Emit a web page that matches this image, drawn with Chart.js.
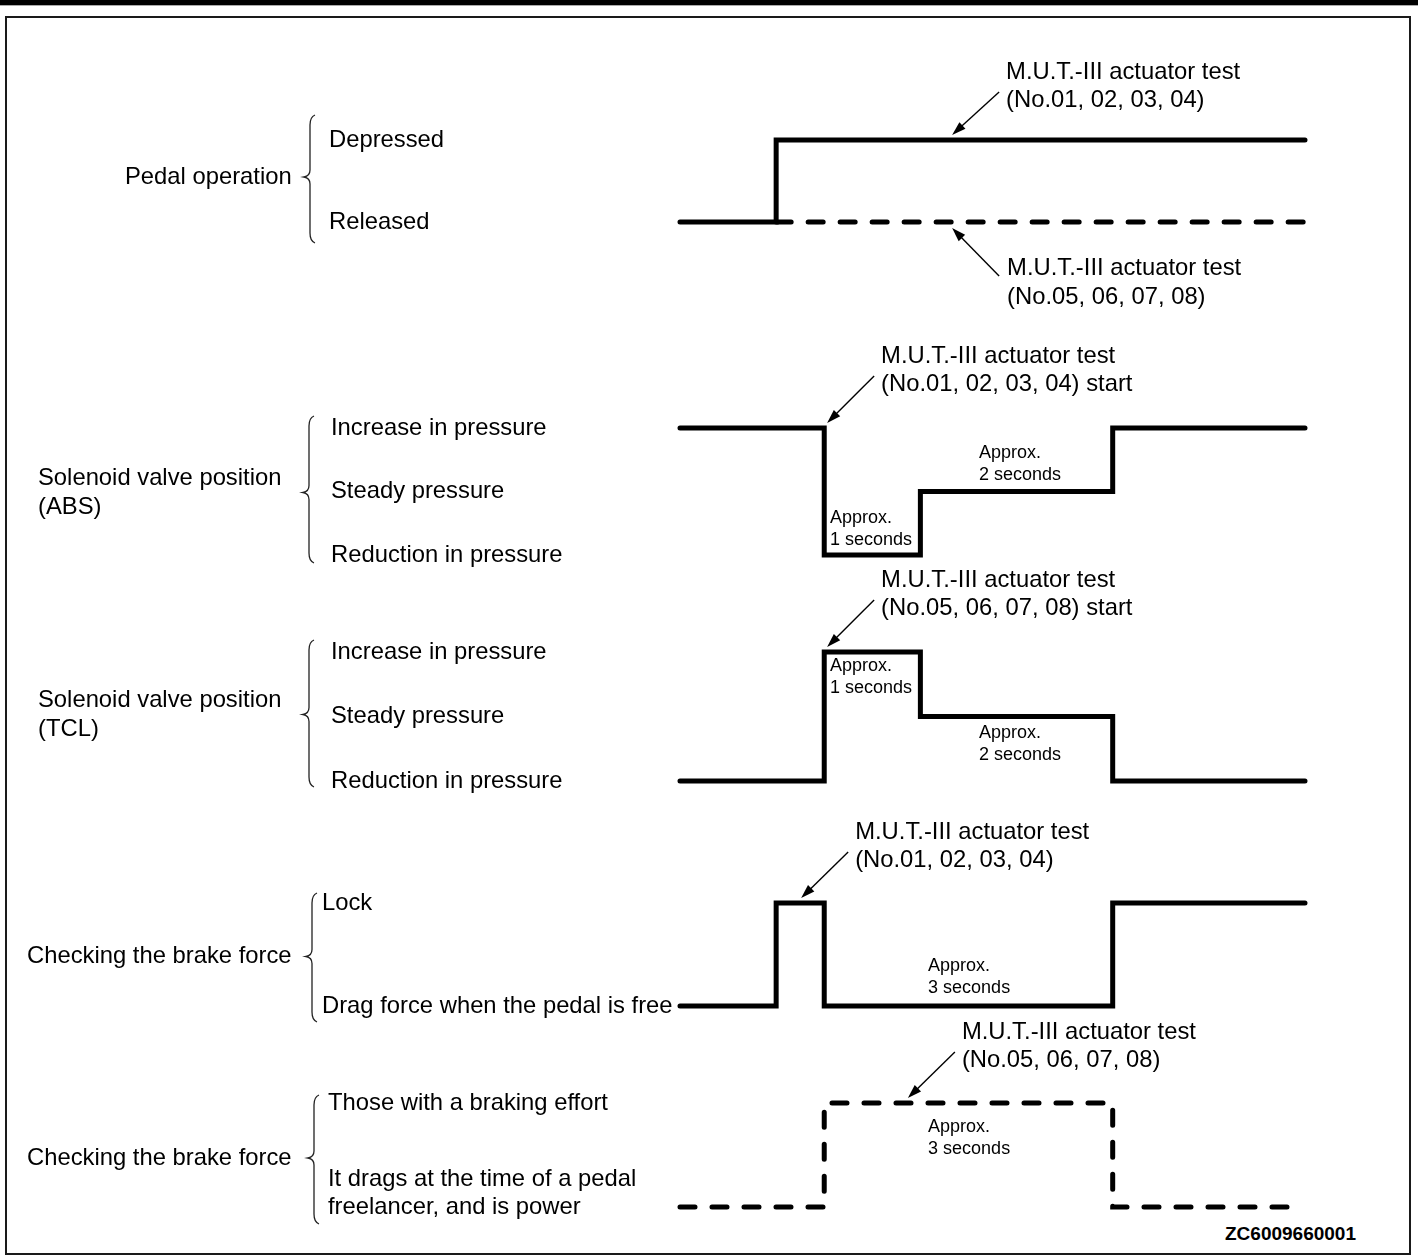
<!DOCTYPE html>
<html>
<head>
<meta charset="utf-8">
<script src="https://cdn.jsdelivr.net/npm/chart.js@4.4.1/dist/chart.umd.min.js"></script>
<style>
  body { margin: 0; background: #fff; }
  #page { position: relative; width: 1418px; height: 1258px; overflow: hidden; font-family: "Liberation Sans", Arial, sans-serif; }
  #topbar { position: absolute; left: 0; top: 0; width: 1418px; height: 5px; background: #000; border-bottom: 1px solid #aaa; }
  #frame { position: absolute; left: 5px; top: 16px; width: 1406px; height: 1239px; box-sizing: border-box; border: 2px solid #1a1a1a; }
  canvas.row { position: absolute; left: 0; }
  #code { position: absolute; left: 1225px; top: 1223px; font: bold 19px "Liberation Sans", Arial, sans-serif; color: #000; }
</style>
</head>
<body>
<div id="page">
  <div id="topbar"></div>
  <div id="frame"></div>
  <div id="code">ZC6009660001</div>
</div>
<script>
// time in seconds, 0 = start of the actuator test
const timeMin = -1.5;
const timeMax = 5;

// pedal operation
const pedalLevels = ['Released', 'Depressed'];
const pedal01T = [-1.5, -0.5, 5];
const pedal01V = [0, 1, 1];
const pedal05T = [-0.5, 5];
const pedal05V = [0, 0];

// solenoid valves
const valveLevels = ['Reduction in pressure', 'Steady pressure', 'Increase in pressure'];
const absT = [-1.5, 0, 1, 3, 5];
const absV = [2, 0, 1, 2, 2];
const tclT = [-1.5, 0, 1, 3, 5];
const tclV = [0, 2, 1, 0, 0];

// brake force (No.01-04)
const lockLevels = ['Drag force when the pedal is free', 'Lock'];
const lockT = [-1.5, -0.5, 0, 3, 5];
const lockV = [0, 1, 0, 1, 1];

// brake force (No.05-08)
const effortLevels = [['It drags at the time of a pedal', 'freelancer, and is power'], 'Those with a braking effort'];
const effortT = [-1.5, 0, 3, 4.85];
const effortV = [0, 1, 0, 0];

const test01 = ['M.U.T.-III actuator test', '(No.01, 02, 03, 04)'];
const test05 = ['M.U.T.-III actuator test', '(No.05, 06, 07, 08)'];
const test01start = ['M.U.T.-III actuator test', '(No.01, 02, 03, 04) start'];
const test05start = ['M.U.T.-III actuator test', '(No.05, 06, 07, 08) start'];

const BIG = '23.8px "Liberation Sans", Arial, sans-serif';
const SMALL = '18px "Liberation Sans", Arial, sans-serif';

const rows = [
  {
    title: ['Pedal operation'], levels: pedalLevels,
    series: [{t: pedal01T, v: pedal01V}, {t: pedal05T, v: pedal05V, dashed: true}],
    notes: [{t: 1.33, level: 1, side: 'above', dy: 4, text: test01}, {t: 1.33, level: 0, side: 'below', dy: 0, text: test05}],
    spans: [],
    top: 18, height: 300, yTop: 140, yBottom: 222, titleX: 125, titleDy: -4, labelX: 329,
    brace: {x: 310, top: -25, bottom: 21}
  },
  {
    title: ['Solenoid valve position', '(ABS)'], levels: valveLevels,
    series: [{t: absT, v: absV}],
    notes: [{t: 0.03, level: 2, side: 'above', dy: 0, text: test01start}],
    spans: [{t: 0.06, level: 0, dy: -37, text: ['Approx.', '1 seconds']}, {t: 1.61, level: 1, dy: -38, text: ['Approx.', '2 seconds']}],
    top: 318, height: 257, yTop: 428, yBottom: 555, titleX: 38, titleDy: 1, labelX: 331,
    brace: {x: 309, top: -12, bottom: 8}
  },
  {
    title: ['Solenoid valve position', '(TCL)'], levels: valveLevels,
    series: [{t: tclT, v: tclV}],
    notes: [{t: 0.03, level: 2, side: 'above', dy: 0, text: test05start}],
    spans: [{t: 0.06, level: 2, dy: 14, text: ['Approx.', '1 seconds']}, {t: 1.61, level: 1, dy: 17, text: ['Approx.', '2 seconds']}],
    top: 565, height: 235, yTop: 652, yBottom: 781, titleX: 38, titleDy: -2, labelX: 331,
    brace: {x: 309, top: -12, bottom: 6}
  },
  {
    title: ['Checking the brake force'], levels: lockLevels,
    series: [{t: lockT, v: lockV}],
    notes: [{t: -0.24, level: 1, side: 'above', dy: 1, text: test01}],
    spans: [{t: 1.08, level: 0, dy: -40, text: ['Approx.', '3 seconds']}],
    top: 800, height: 230, yTop: 903, yBottom: 1006, titleX: 27, titleDy: 2, labelX: 322,
    brace: {x: 312, top: -10, bottom: 16}
  },
  {
    title: ['Checking the brake force'], levels: effortLevels,
    series: [{t: effortT, v: effortV, dashed: true}],
    notes: [{t: 0.87, level: 1, side: 'above', dy: 1, text: test05}],
    spans: [{t: 1.08, level: 1, dy: 24, text: ['Approx.', '3 seconds']}],
    top: 1010, height: 240, yTop: 1103, yBottom: 1207, titleX: 27, titleDy: 3, labelX: 328,
    brace: {x: 314, top: -8, bottom: 17}
  }
];

function drawBrace(ctx, x, top, mid, bottom) {
  ctx.save();
  ctx.strokeStyle = '#222';
  ctx.lineWidth = 1.3;
  ctx.beginPath();
  ctx.moveTo(x + 5, top);
  ctx.quadraticCurveTo(x, top + 2, x, top + 10);
  ctx.lineTo(x, mid - 7);
  ctx.quadraticCurveTo(x, mid - 1, x - 6, mid);
  ctx.quadraticCurveTo(x, mid + 1, x, mid + 7);
  ctx.lineTo(x, bottom - 10);
  ctx.quadraticCurveTo(x, bottom - 2, x + 5, bottom);
  ctx.stroke();
  ctx.restore();
}

function drawArrow(ctx, x1, y1, x2, y2) {
  const ang = Math.atan2(y2 - y1, x2 - x1);
  ctx.save();
  ctx.strokeStyle = '#000';
  ctx.fillStyle = '#000';
  ctx.lineWidth = 1.4;
  ctx.beginPath();
  ctx.moveTo(x1, y1);
  ctx.lineTo(x2 - 8 * Math.cos(ang), y2 - 8 * Math.sin(ang));
  ctx.stroke();
  ctx.translate(x2, y2);
  ctx.rotate(ang);
  ctx.beginPath();
  ctx.moveTo(0, 0);
  ctx.lineTo(-14, -4.5);
  ctx.lineTo(-14, 4.5);
  ctx.closePath();
  ctx.fill();
  ctx.restore();
}

function rowPlugin(row) {
  return {
    id: 'rowText',
    afterDatasetsDraw(chart) {
      const {ctx} = chart;
      const x = chart.scales.x, y = chart.scales.y;
      ctx.save();
      ctx.fillStyle = '#000';
      ctx.textBaseline = 'middle';
      ctx.textAlign = 'left';

      // level labels
      ctx.font = BIG;
      row.levels.forEach((lab, i) => {
        const lines = Array.isArray(lab) ? lab : [lab];
        const py = y.getPixelForValue(i);
        lines.forEach((s, k) => ctx.fillText(s, row.labelX, py - (lines.length - 1 - k) * 28));
      });

      // group title and brace
      const yHi = y.getPixelForValue(row.levels.length - 1);
      const yLo = y.getPixelForValue(0);
      const mid = (yHi + yLo) / 2 + row.titleDy;
      row.title.forEach((s, k) => ctx.fillText(s, row.titleX, mid + (k - (row.title.length - 1) / 2) * 29));
      drawBrace(ctx, row.brace.x, yHi + row.brace.top, mid, yLo + row.brace.bottom);

      // test annotations with arrows
      row.notes.forEach(n => {
        const px = x.getPixelForValue(n.t);
        const py = y.getPixelForValue(n.level);
        if (n.side === 'above') {
          drawArrow(ctx, px + 47, py - 52 + n.dy, px, py - 5);
          ctx.fillText(n.text[0], px + 54, py - 72 + n.dy);
          ctx.fillText(n.text[1], px + 54, py - 44 + n.dy);
        } else {
          drawArrow(ctx, px + 47, py + 54, px, py + 6);
          ctx.fillText(n.text[0], px + 55, py + 46);
          ctx.fillText(n.text[1], px + 55, py + 75);
        }
      });

      // duration labels
      ctx.font = SMALL;
      row.spans.forEach(s => {
        const px = x.getPixelForValue(s.t);
        const py = y.getPixelForValue(s.level);
        s.text.forEach((line, k) => ctx.fillText(line, px, py + s.dy + k * 22));
      });
      ctx.restore();
    }
  };
}

const page = document.getElementById('page');

rows.forEach(row => {
  const canvas = document.createElement('canvas');
  canvas.className = 'row';
  canvas.width = 1418;
  canvas.height = row.height;
  canvas.style.top = row.top + 'px';
  page.appendChild(canvas);

  new Chart(canvas, {
    type: 'line',
    data: {
      datasets: row.series.map(s => ({
        data: s.t.map((t, i) => ({x: t, y: s.v[i]})),
        borderColor: '#000',
        borderWidth: 5,
        borderDash: s.dashed ? [15, 17] : [],
        borderCapStyle: 'round',
        borderJoinStyle: 'miter',
        stepped: 'before',
        pointRadius: 0,
        fill: false,
        clip: false
      }))
    },
    options: {
      responsive: false,
      animation: false,
      events: [],
      layout: {
        padding: {left: 680, right: 113, top: row.yTop - row.top, bottom: row.top + row.height - row.yBottom}
      },
      scales: {
        x: {type: 'linear', min: timeMin, max: timeMax, display: false},
        y: {type: 'linear', min: 0, max: row.levels.length - 1, display: false}
      },
      plugins: {legend: {display: false}, tooltip: {enabled: false}}
    },
    plugins: [rowPlugin(row)]
  });
});
</script>
</body>
</html>
